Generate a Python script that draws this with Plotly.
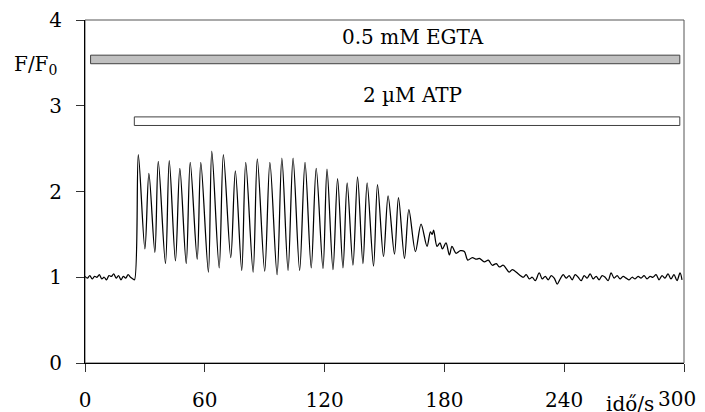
import plotly.graph_objects as go

# ---- data ----
base_t = [0, 1.2, 2.4, 3.6, 4.8, 6, 7.2, 8.4, 9.6, 10.8, 12, 13.2, 14.4, 15.6, 16.8,
          18, 19.2, 20.4, 21.6, 22.8, 24, 24.8]
base_v = [1.01, 0.99, 1.02, 0.98, 1.01, 1.00, 1.03, 0.98, 1.00, 0.97, 1.02, 1.01, 1.04,
          0.99, 1.02, 0.97, 1.01, 0.99, 1.03, 1.00, 0.98, 0.97]

osc_t = [26.7, 30.0, 32.0, 35.0, 36.7, 40.3, 42.2, 45.3, 47.5, 50.7, 52.7, 56.2, 58.0,
         61.8, 63.5, 67.2, 69.3, 73.0, 75.3, 78.5, 80.5, 84.2, 86.3, 90.0, 92.6, 96.2,
         98.6, 101.7, 104.2, 107.5, 110.2, 113.3, 115.8, 119.2, 121.2, 124.2, 126.5,
         129.2, 131.3, 134.2, 136.5, 139.2, 141.3, 144.5, 146.5, 149.5, 151.8, 155.0,
         157.0, 160.0, 162.2, 165.5, 168.3, 171.3, 173.0, 173.9, 174.6, 176.3]
osc_v = [2.43, 1.33, 2.21, 1.29, 2.35, 1.16, 2.36, 1.19, 2.27, 1.16, 2.34, 1.21, 2.34,
         1.06, 2.47, 1.11, 2.43, 1.23, 2.24, 1.08, 2.34, 1.06, 2.38, 1.07, 2.34, 1.03,
         2.39, 1.08, 2.39, 1.08, 2.34, 1.11, 2.27, 1.10, 2.26, 1.09, 2.15, 1.11, 2.10,
         1.14, 2.17, 1.16, 2.10, 1.13, 2.08, 1.24, 1.95, 1.27, 1.93, 1.22, 1.79, 1.30,
         1.62, 1.36, 1.53, 1.50, 1.55, 1.36]

tail_t = [177.8, 179.0, 180.8, 182.5, 183.8, 185.8, 188.0, 190.0, 191.7, 194.0, 196.0,
          197.5, 200.0, 202.0, 204.0, 206.0, 207.5, 209.5, 212.5, 214.0, 217.5, 219.5,
          221.0, 222.5, 224.0, 225.5, 227.5, 229.0, 230.5, 232.0, 233.5, 235.0, 236.5,
          238.0, 239.5, 241.0, 242.5, 244.0, 245.5, 247.0, 248.5, 250.0, 251.5, 253.0,
          254.5, 256.0, 257.5, 259.0, 260.5, 262.0, 263.5, 265.0, 266.5, 268.0, 269.5,
          271.0, 272.5, 274.0, 275.5, 277.0, 278.5, 280.0, 281.5, 283.0, 284.5, 286.0,
          287.5, 289.0, 290.5, 292.0, 293.5, 295.0, 296.5, 298.0, 299.0]
tail_v = [1.40, 1.33, 1.40, 1.26, 1.36, 1.28, 1.31, 1.30, 1.20, 1.23, 1.21, 1.22, 1.18,
          1.20, 1.14, 1.16, 1.12, 1.14, 1.06, 1.09, 1.03, 1.00, 1.03, 0.98, 1.00, 0.96,
          1.05, 0.98, 1.01, 0.97, 1.02, 0.99, 0.92, 0.98, 1.03, 0.99, 1.02, 0.97, 1.03,
          1.00, 0.96, 1.02, 0.99, 1.04, 0.98, 1.01, 0.97, 1.02, 1.00, 0.96, 1.05, 0.99,
          1.02, 0.98, 1.01, 0.99, 0.97, 1.00, 0.98, 1.01, 0.99, 1.02, 0.98, 1.01, 1.00,
          1.03, 0.97, 1.02, 0.99, 1.04, 0.98, 1.03, 0.96, 1.05, 0.97]

time_s = base_t + osc_t + tail_t
ratio = base_v + osc_v + tail_v

x_ticks = [0, 60, 120, 180, 240, 300]
x_tick_text = ["0", "60", "120", "180", "240", "300"]
y_ticks = [0, 1, 2, 3, 4]

egta_span = [2.8, 297.9]
egta_level = [3.49, 3.59]
atp_span = [24.7, 297.9]
atp_level = [2.77, 2.87]
egta_label = "0.5 mM EGTA"
atp_label = "2 µM ATP"

FONT = "DejaVu Serif"
FS = 20

fig = go.Figure()
fig.add_trace(go.Scatter(x=time_s, y=ratio, mode="lines",
                         line=dict(color="black", width=1.25, shape="spline", smoothing=0.9),
                         hoverinfo="skip", showlegend=False))

# frame (top/right)
fig.add_shape(type="rect", xref="paper", yref="paper", x0=0, x1=1, y0=0, y1=1,
              line=dict(color="#555555", width=1), layer="below")

fig.add_shape(type="rect", xref="x", yref="y", x0=egta_span[0], x1=egta_span[1],
              y0=egta_level[0], y1=egta_level[1], fillcolor="#c0c0c0",
              line=dict(color="#404040", width=1))
fig.add_shape(type="rect", xref="x", yref="y", x0=atp_span[0], x1=atp_span[1],
              y0=atp_level[0], y1=atp_level[1], fillcolor="white",
              line=dict(color="#404040", width=1))

fig.add_annotation(x=164.5, y=3.80, xref="x", yref="y", text=egta_label, showarrow=False,
                   font=dict(family=FONT, size=FS, color="black"))
fig.add_annotation(x=164, y=3.13, xref="x", yref="y", text=atp_label, showarrow=False,
                   font=dict(family=FONT, size=FS, color="black"))
fig.add_annotation(x=0, xref="paper", xanchor="right", xshift=-26, y=3.47, yref="y",
                   text="F/F<sub>0</sub>", showarrow=False,
                   font=dict(family=FONT, size=FS, color="black"))
fig.add_annotation(x=273, xref="x", y=0, yref="paper", yanchor="top", yshift=-27,
                   text="idő/s", showarrow=False,
                   font=dict(family=FONT, size=FS, color="black"))
# last x tick label, nudged left so it stays inside the page as in the reference
fig.add_annotation(x=x_ticks[-1], xref="x", xshift=-7, y=0, yref="paper", yanchor="top",
                   yshift=-22, text=x_tick_text[-1], showarrow=False,
                   font=dict(family=FONT, size=FS, color="black"))

fig.update_xaxes(range=[0, 300], tickvals=x_ticks, ticktext=x_tick_text[:-1] + [""],
                 ticks="outside", ticklen=8, tickcolor="#333", showline=True,
                 linecolor="black", linewidth=1, showgrid=False, zeroline=False,
                 ticklabelstandoff=11, automargin=False,
                 tickfont=dict(family=FONT, size=FS, color="black"))
fig.update_yaxes(range=[0, 4], tickvals=y_ticks, ticks="outside", ticklen=8,
                 tickcolor="#333", showline=True, linecolor="black", linewidth=1,
                 showgrid=False, zeroline=False, ticklabelstandoff=10, automargin=False,
                 tickfont=dict(family=FONT, size=FS, color="black"))

# page body has an 8px default margin, so the figure is offset by (8, 8)
fig.update_layout(width=697, height=404, margin=dict(l=77, r=21, t=12, b=49),
                  plot_bgcolor="white", paper_bgcolor="white")

fig.write_html("out.html")
